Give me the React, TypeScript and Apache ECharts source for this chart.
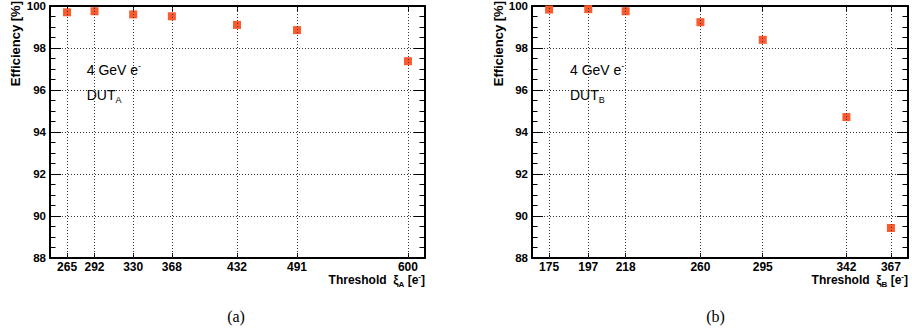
import React, { useEffect, useRef } from "react";
import * as echarts from "echarts";

const thresholdsA = [265, 292, 330, 368, 432, 491, 600];
const efficiencyA = [99.7, 99.75, 99.6, 99.51, 99.1, 98.85, 97.37];
const thresholdsB = [175, 197, 218, 260, 295, 342, 367];
const efficiencyB = [99.83, 99.85, 99.75, 99.23, 98.39, 94.71, 89.43];
const yMin = 88;
const yMax = 100;
const yStep = 2;

const MARK = "#FA5A2C";
const FONT = "Liberation Sans";

function pad(arr: number[]) {
  const lo = Math.min(...arr);
  const hi = Math.max(...arr);
  const m = (hi - lo) * 0.05;
  return [lo - m, hi + m];
}

export default function App() {
  const ref = useRef<HTMLDivElement>(null);
  useEffect(() => {
    if (!ref.current) return;
    const chart = echarts.init(ref.current, undefined, { renderer: "svg" });
    const [aMin, aMax] = pad(thresholdsA);
    const [bMin, bMax] = pad(thresholdsB);
    const gridTop = 3;
    const gridH = 255;
    const grids = [
      { left: 50, top: gridTop, width: 375, height: gridH },
      { left: 532, top: gridTop, width: 376, height: gridH },
    ];
    const axisLine = { show: true, onZero: false, lineStyle: { color: "#000", width: 2 } };
    const mkX = (gi: number, min: number, max: number, ticks: number[], top: boolean) => ({
      type: "value",
      gridIndex: gi,
      position: top ? "top" : "bottom",
      min,
      max,
      axisLine,
      axisTick: { show: true, inside: true, length: 5, customValues: ticks, lineStyle: { color: "#000", width: 1 } },
      axisLabel: top
        ? { show: false }
        : { show: true, customValues: ticks, fontFamily: FONT, fontWeight: "bold", fontSize: 12, color: "#000", margin: 2, lineHeight: 13 },
      splitLine: { show: false },
    });
    const mkY = (gi: number, right: boolean) => ({
      type: "value",
      gridIndex: gi,
      position: right ? "right" : "left",
      min: yMin,
      max: yMax,
      interval: yStep,
      axisLine,
      axisTick: { show: true, inside: true, length: 11, lineStyle: { color: "#000", width: 1 } },
      minorTick: { show: true, splitNumber: 4, length: 5.5, lineStyle: { color: "#000", width: 1 } },
      axisLabel: right
        ? { show: false }
        : { show: true, fontFamily: FONT, fontWeight: "bold", fontSize: 11.5, color: "#000", margin: 4 },
      splitLine: right ? { show: false } : { show: true, lineStyle: { color: "#333", width: 1, type: [1, 2] } },
    });
    const markLine = (ticks: number[]) => ({
      silent: true,
      symbol: "none",
      label: { show: false },
      lineStyle: { color: "#333", width: 1, type: [1, 2] },
      data: ticks.map((v) => ({ xAxis: v })),
    });
    const richBase = {
      a: { fontFamily: FONT, fontSize: 14, color: "#000", lineHeight: 18, verticalAlign: "middle" },
      sup: { fontFamily: FONT, fontSize: 9, color: "#000", verticalAlign: "top", lineHeight: 18 },
      sub: { fontFamily: FONT, fontSize: 9, color: "#000", verticalAlign: "bottom", lineHeight: 16 },
    };
    const richBold = {
      a: { fontFamily: FONT, fontSize: 12, fontWeight: "bold", color: "#000", lineHeight: 14, verticalAlign: "middle" },
      sup: { fontFamily: FONT, fontSize: 8, fontWeight: "bold", color: "#000", verticalAlign: "top", lineHeight: 14 },
      sub: { fontFamily: FONT, fontSize: 8, fontWeight: "bold", color: "#000", verticalAlign: "bottom", lineHeight: 16 },
    };
    const panelTexts = (x0: number, yTitleX: number, nameRight: number, sub: string, cap: string, capX: number) => [
      {
        type: "text",
        x: yTitleX,
        y: 1,
        rotation: Math.PI / 2,
        style: { text: "Efficiency [%]", fontFamily: FONT, fontWeight: "bold", fontSize: 13, fill: "#000", align: "right", verticalAlign: "middle" },
      },
      {
        type: "text",
        x: x0,
        y: 70,
        style: { text: "{a|4 GeV e}{sup|-}", rich: richBase, align: "left", verticalAlign: "middle" },
      },
      {
        type: "text",
        x: x0,
        y: 95,
        style: { text: "{a|DUT}{sub|" + sub + "}", rich: richBase, align: "left", verticalAlign: "middle" },
      },
      {
        type: "text",
        x: nameRight,
        y: 280,
        style: { text: "{a|Threshold  ξ}{sub|" + sub + "}{a| [e}{sup|-}{a|]}", rich: richBold, align: "right", verticalAlign: "middle" },
      },
      {
        type: "text",
        x: capX,
        y: 316,
        style: { text: cap, fontFamily: "Liberation Serif", fontSize: 16, fill: "#000", align: "center", verticalAlign: "middle" },
      },
    ];
    chart.setOption({
      animation: false,
      grid: grids,
      xAxis: [
        mkX(0, aMin, aMax, thresholdsA, false),
        mkX(0, aMin, aMax, thresholdsA, true),
        mkX(1, bMin, bMax, thresholdsB, false),
        mkX(1, bMin, bMax, thresholdsB, true),
      ],
      yAxis: [mkY(0, false), mkY(0, true), mkY(1, false), mkY(1, true)],
      series: [
        {
          type: "scatter",
          xAxisIndex: 0,
          yAxisIndex: 0,
          symbol: "rect",
          symbolSize: 8,
          itemStyle: { color: MARK, opacity: 1 },
          data: thresholdsA.map((x, i) => [x, efficiencyA[i]]),
          markLine: markLine(thresholdsA),
        },
        {
          type: "scatter",
          xAxisIndex: 2,
          yAxisIndex: 2,
          symbol: "rect",
          symbolSize: 8,
          itemStyle: { color: MARK, opacity: 1 },
          data: thresholdsB.map((x, i) => [x, efficiencyB[i]]),
          markLine: markLine(thresholdsB),
        },
      ],
      graphic: [
        ...panelTexts(86.7, 15.7, 425, "A", "(a)", 236),
        ...panelTexts(570, 498, 908, "B", "(b)", 715.5),
      ],
    });
    return () => chart.dispose();
  }, []);
  return <div ref={ref} style={{ position: "absolute", left: 0, top: 0, width: 912, height: 336 }} />;
}
